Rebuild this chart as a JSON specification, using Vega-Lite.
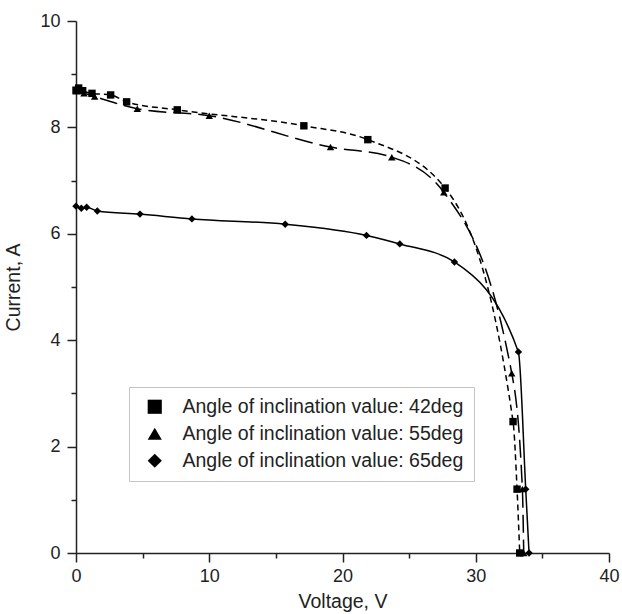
{
  "$schema": "https://vega.github.io/schema/vega-lite/v6.json",
  "width": 533,
  "height": 532,
  "autosize": {"type": "none"},
  "padding": {"left": 76, "top": 21, "right": 13, "bottom": 61},
  "background": "white",
  "config": {"view": {"stroke": null}, "font": "Liberation Sans"},
  "data": {
    "values": [
      {"series": "Angle of inclination value: 42deg", "voltage": 0.0, "current": 8.70},
      {"series": "Angle of inclination value: 42deg", "voltage": 0.2, "current": 8.74},
      {"series": "Angle of inclination value: 42deg", "voltage": 0.5, "current": 8.69},
      {"series": "Angle of inclination value: 42deg", "voltage": 1.2, "current": 8.64},
      {"series": "Angle of inclination value: 42deg", "voltage": 2.6, "current": 8.61},
      {"series": "Angle of inclination value: 42deg", "voltage": 3.8, "current": 8.48},
      {"series": "Angle of inclination value: 42deg", "voltage": 7.6, "current": 8.33},
      {"series": "Angle of inclination value: 42deg", "voltage": 17.1, "current": 8.03},
      {"series": "Angle of inclination value: 42deg", "voltage": 21.9, "current": 7.77},
      {"series": "Angle of inclination value: 42deg", "voltage": 27.7, "current": 6.86},
      {"series": "Angle of inclination value: 42deg", "voltage": 32.8, "current": 2.47},
      {"series": "Angle of inclination value: 42deg", "voltage": 33.1, "current": 1.2},
      {"series": "Angle of inclination value: 42deg", "voltage": 33.3, "current": 0.0},
      {"series": "Angle of inclination value: 55deg", "voltage": 0.0, "current": 8.68},
      {"series": "Angle of inclination value: 55deg", "voltage": 0.6, "current": 8.64},
      {"series": "Angle of inclination value: 55deg", "voltage": 1.4, "current": 8.58},
      {"series": "Angle of inclination value: 55deg", "voltage": 4.6, "current": 8.35},
      {"series": "Angle of inclination value: 55deg", "voltage": 10.0, "current": 8.22},
      {"series": "Angle of inclination value: 55deg", "voltage": 19.1, "current": 7.63},
      {"series": "Angle of inclination value: 55deg", "voltage": 23.7, "current": 7.44},
      {"series": "Angle of inclination value: 55deg", "voltage": 27.6, "current": 6.78},
      {"series": "Angle of inclination value: 55deg", "voltage": 32.7, "current": 3.38},
      {"series": "Angle of inclination value: 55deg", "voltage": 33.5, "current": 1.2},
      {"series": "Angle of inclination value: 55deg", "voltage": 33.6, "current": 0.0},
      {"series": "Angle of inclination value: 65deg", "voltage": 0.0, "current": 6.52},
      {"series": "Angle of inclination value: 65deg", "voltage": 0.4, "current": 6.48},
      {"series": "Angle of inclination value: 65deg", "voltage": 0.8, "current": 6.50},
      {"series": "Angle of inclination value: 65deg", "voltage": 1.6, "current": 6.43},
      {"series": "Angle of inclination value: 65deg", "voltage": 4.8, "current": 6.37},
      {"series": "Angle of inclination value: 65deg", "voltage": 8.7, "current": 6.28},
      {"series": "Angle of inclination value: 65deg", "voltage": 15.7, "current": 6.18},
      {"series": "Angle of inclination value: 65deg", "voltage": 21.8, "current": 5.97},
      {"series": "Angle of inclination value: 65deg", "voltage": 24.3, "current": 5.81},
      {"series": "Angle of inclination value: 65deg", "voltage": 28.4, "current": 5.47},
      {"series": "Angle of inclination value: 65deg", "voltage": 33.2, "current": 3.78},
      {"series": "Angle of inclination value: 65deg", "voltage": 33.75, "current": 1.2},
      {"series": "Angle of inclination value: 65deg", "voltage": 34.0, "current": 0.0}
    ]
  },
  "encoding": {
    "x": {
      "field": "voltage",
      "type": "quantitative",
      "scale": {"domain": [0, 40], "nice": false, "zero": false},
      "axis": {
        "values": [0, 5, 10, 15, 20, 25, 30, 35, 40],
        "labelExpr": "datum.value % 10 === 0 ? datum.label : ''",
        "tickSize": {"condition": {"test": "datum.value % 10 === 0", "value": 9}, "value": 5},
        "grid": false,
        "domainColor": "#222",
        "domainWidth": 1.5,
        "tickColor": "#222",
        "tickWidth": 1.5,
        "labelFontSize": 18,
        "labelColor": "#222",
        "labelPadding": 5,
        "labelFlush": false,
        "labelOverlap": false,
        "title": "Voltage, V",
        "titleFontSize": 19.5,
        "titleFontWeight": "normal",
        "titleColor": "#222",
        "titleX": 266.5,
        "titleY": 54.5,
        "titleBaseline": "alphabetic",
        "titleAlign": "center"
      }
    },
    "y": {
      "field": "current",
      "type": "quantitative",
      "scale": {"domain": [0, 10], "nice": false, "zero": false},
      "axis": {
        "values": [0, 1, 2, 3, 4, 5, 6, 7, 8, 9, 10],
        "labelExpr": "datum.value % 2 === 0 ? datum.label : ''",
        "tickSize": {"condition": {"test": "datum.value % 2 === 0", "value": 9}, "value": 5},
        "grid": false,
        "domainColor": "#222",
        "domainWidth": 1.5,
        "tickColor": "#222",
        "tickWidth": 1.5,
        "labelFontSize": 18,
        "labelColor": "#222",
        "labelPadding": 7,
        "labelFlush": false,
        "labelOverlap": false,
        "title": "Current, A",
        "titleFontSize": 19.5,
        "titleFontWeight": "normal",
        "titleColor": "#222",
        "titleX": -57,
        "titleY": 266,
        "titleAngle": -90,
        "titleBaseline": "alphabetic",
        "titleAlign": "center"
      }
    }
  },
  "layer": [
    {
      "transform": [{"filter": "datum.series === 'Angle of inclination value: 42deg'"}],
      "mark": {"type": "line", "interpolate": "monotone", "strokeWidth": 1.5, "color": "black", "strokeDash": [6, 4]}
    },
    {
      "transform": [{"filter": "datum.series === 'Angle of inclination value: 55deg'"}],
      "mark": {"type": "line", "interpolate": "monotone", "strokeWidth": 1.5, "color": "black", "strokeDash": [18, 7]}
    },
    {
      "transform": [{"filter": "datum.series === 'Angle of inclination value: 65deg'"}],
      "mark": {"type": "line", "interpolate": "monotone", "strokeWidth": 1.5, "color": "black"}
    },
    {
      "mark": {"type": "point", "filled": true, "color": "black", "opacity": 1, "size": 55},
      "encoding": {
        "shape": {
          "field": "series",
          "type": "nominal",
          "scale": {
            "domain": ["Angle of inclination value: 42deg", "Angle of inclination value: 55deg", "Angle of inclination value: 65deg"],
            "range": ["square", "triangle-up", "diamond"]
          },
          "legend": {
            "title": null,
            "orient": "none",
            "legendX": 53,
            "legendY": 366,
            "strokeColor": "#c4c4c4",
            "fillColor": "white",
            "padding": 10,
            "symbolOffset": 6,
            "symbolSize": 200,
            "symbolFillColor": "black",
            "symbolStrokeColor": "black",
            "symbolStrokeWidth": 0,
            "labelFontSize": 19.5,
            "labelColor": "#222",
            "labelOffset": 18,
            "rowPadding": 6,
            "labelLimit": 400
          }
        }
      }
    }
  ]
}
